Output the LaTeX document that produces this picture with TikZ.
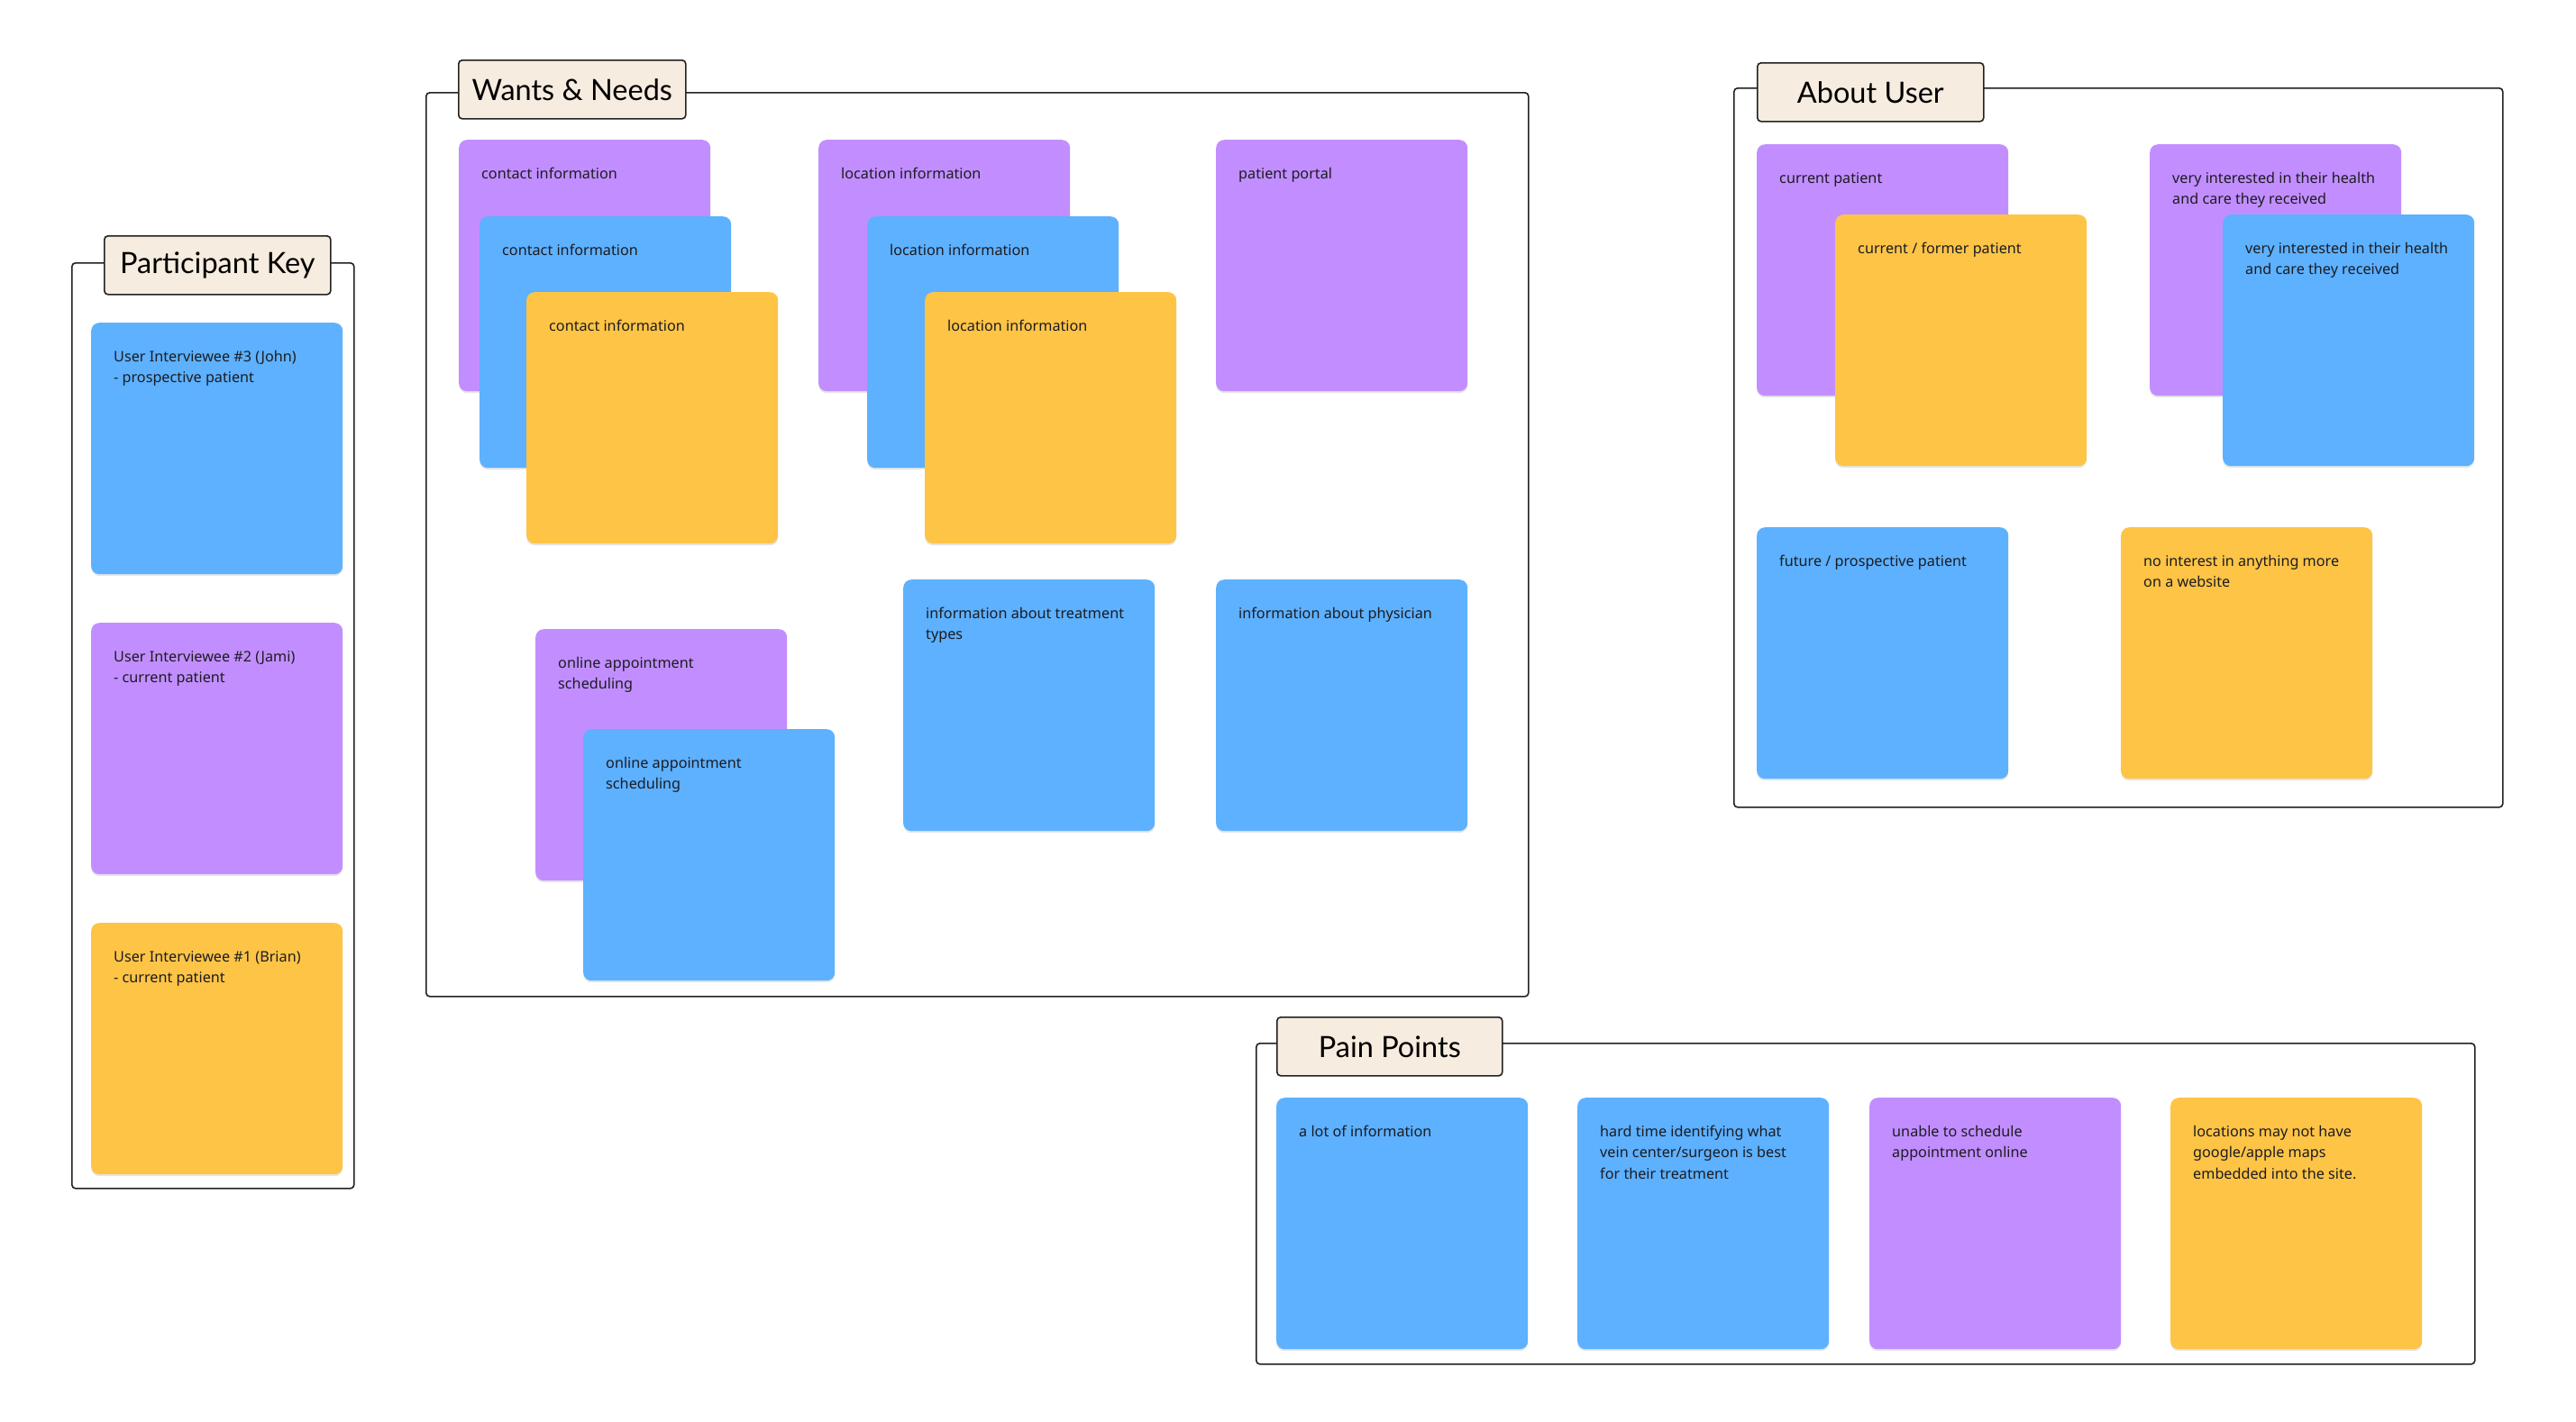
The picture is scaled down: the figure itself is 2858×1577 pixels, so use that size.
\documentclass[tikz,border=0pt]{standalone}
\usepackage{fontspec}
\setmainfont{Noto Sans}
\newfontfamily\titlefont{Lato}
\usetikzlibrary{shadows}
\definecolor{spurple}{HTML}{C28EFF}
\definecolor{sblue}{HTML}{5DB1FF}
\definecolor{syellow}{HTML}{FEC446}
\definecolor{tfill}{HTML}{F6ECDF}
\definecolor{ink}{HTML}{1C1C22}
\definecolor{fline}{HTML}{222222}
\tikzset{
  sticky/.style={draw=none, rounded corners=9pt, minimum width=279pt, minimum height=279pt, anchor=north west, inner sep=0pt,
    drop shadow={shadow xshift=0pt, shadow yshift=-2pt, opacity=0.10, fill=black}},
  stxt/.style={anchor=north west, inner sep=0pt, align=left, text=ink, font=\fontsize{16.2}{23.3}\selectfont},
  framebox/.style={draw=fline, line width=1.6pt, rounded corners=4pt, anchor=north west, inner sep=0pt},
  titlebox/.style={draw=fline, fill=tfill, line width=1.6pt, rounded corners=4pt, anchor=north west, inner sep=0pt,
    minimum height=65pt, font=\titlefont\fontsize{32.5}{36}\selectfont, text=black}
}
\newcommand\stk[5]{%
  \node[sticky, fill=#2] (#1) at (#3,#4) {};
  \node[stxt] (#1t) at ([xshift=25pt,yshift=-31pt]#1.north west) {#5};
}
\begin{document}
\begin{tikzpicture}[x=1pt,y=-1pt]
\fill[white] (0,0) rectangle (2858,1577);
\useasboundingbox (0,0) rectangle (2858,1577);

% ---------- Participant Key ----------
\node[framebox, minimum width=313pt, minimum height=1027pt] (fpk) at (79,291) {};
\node[titlebox, minimum width=251pt] (tpk) at (115,261) {Participant Key};
\stk{pk3}{sblue}{101}{358}{User Interviewee \#3 (John)\\- prospective patient}
\stk{pk2}{spurple}{101}{691}{User Interviewee \#2 (Jami)\\- current patient}
\stk{pk1}{syellow}{101}{1024}{User Interviewee \#1 (Brian)\\- current patient}

% ---------- Wants & Needs ----------
\node[framebox, minimum width=1223pt, minimum height=1003pt] (fwn) at (472,102) {};
\node[titlebox, minimum width=252pt] (twn) at (508,66) {Wants \& Needs};
\stk{wc1}{spurple}{509}{155}{contact information}
\stk{wc2}{sblue}{532}{240}{contact information}
\stk{wc3}{syellow}{584}{324}{contact information}
\stk{wl1}{spurple}{908}{155}{location information}
\stk{wl2}{sblue}{962}{240}{location information}
\stk{wl3}{syellow}{1026}{324}{location information}
\stk{wpp}{spurple}{1349}{155}{patient portal}
\stk{wo1}{spurple}{594}{698}{online appointment\\scheduling}
\stk{wo2}{sblue}{647}{809}{online appointment\\scheduling}
\stk{wtr}{sblue}{1002}{643}{information about treatment\\types}
\stk{wph}{sblue}{1349}{643}{information about physician}

% ---------- About User ----------
\node[framebox, minimum width=853pt, minimum height=798pt] (fau) at (1923,97) {};
\node[titlebox, minimum width=251pt] (tau) at (1949,69) {About User};
\stk{au1}{spurple}{1949}{160}{current patient}
\stk{au2}{syellow}{2036}{238}{current / former patient}
\stk{au3}{spurple}{2385}{160}{very interested in their health\\and care they received}
\stk{au4}{sblue}{2466}{238}{very interested in their health\\and care they received}
\stk{au5}{sblue}{1949}{585}{future / prospective patient}
\stk{au6}{syellow}{2353}{585}{no interest in anything more\\on a website}

% ---------- Pain Points ----------
\node[framebox, minimum width=1352pt, minimum height=356pt] (fpp) at (1393,1157) {};
\node[titlebox, minimum width=250pt] (tpp) at (1416,1128) {Pain Points};
\stk{pp1}{sblue}{1416}{1218}{a lot of information}
\stk{pp2}{sblue}{1750}{1218}{hard time identifying what\\vein center/surgeon is best\\for their treatment}
\stk{pp3}{spurple}{2074}{1218}{unable to schedule\\appointment online}
\stk{pp4}{syellow}{2408}{1218}{locations may not have\\google/apple maps\\embedded into the site.}
\end{tikzpicture}
\end{document}
